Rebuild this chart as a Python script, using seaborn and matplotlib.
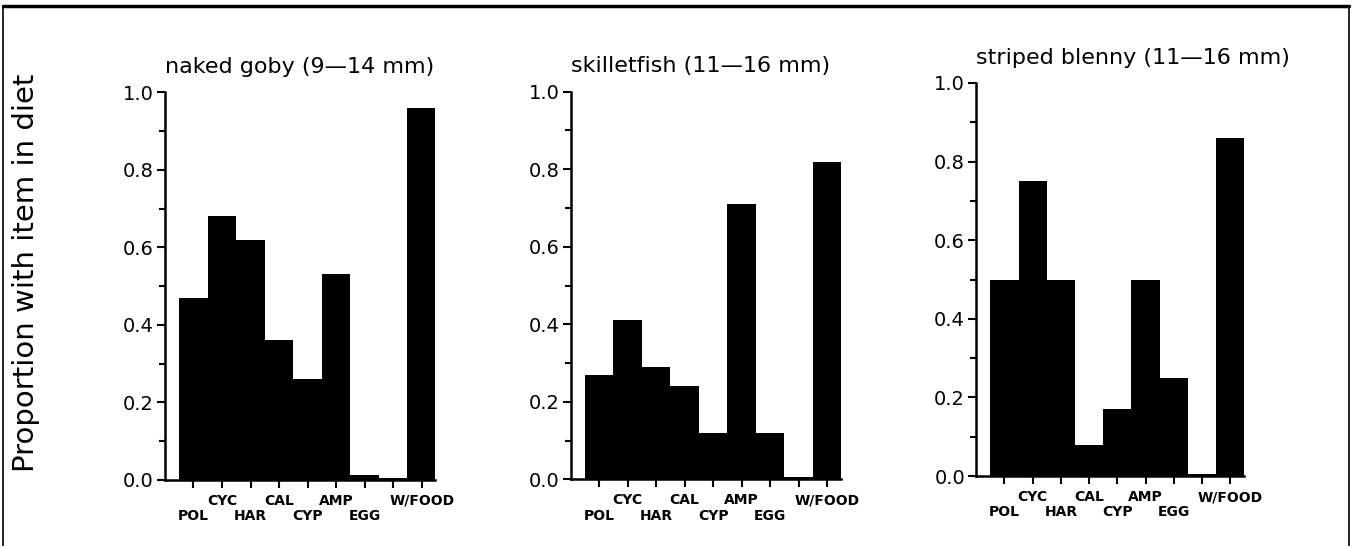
import matplotlib

matplotlib.use("Agg")

import matplotlib.pyplot as plt
import pandas as pd
import seaborn as sns
from matplotlib.lines import Line2D
from matplotlib.ticker import FixedLocator, FormatStrFormatter, MultipleLocator

# Diet items; the blank slot separates items from the "with food" total.
CATEGORIES = ["POL", "CYC", "HAR", "CAL", "CYP", "AMP", "EGG", "", "W/FOOD"]

TITLES = [
    "naked goby (9\u201414 mm)",
    "skilletfish (11\u201416 mm)",
    "striped blenny (11\u201416 mm)",
]

NAKED_GOBY = [0.47, 0.68, 0.62, 0.36, 0.26, 0.53, 0.012, 0.005, 0.96]
SKILLETFISH = [0.27, 0.41, 0.29, 0.24, 0.12, 0.71, 0.12, 0.005, 0.82]
STRIPED_BLENNY = [0.50, 0.75, 0.50, 0.08, 0.17, 0.50, 0.25, 0.005, 0.86]

SERIES = [NAKED_GOBY, SKILLETFISH, STRIPED_BLENNY]

# axes rectangles in figure fraction (left, bottom, width, height)
RECTS = [
    (0.122, 0.121, 0.200, 0.710),
    (0.422, 0.122, 0.200, 0.710),
    (0.722, 0.128, 0.198, 0.720),
]

# upper label row gets these slots, the rest go to the lower row
UPPER_ROW = {"CYC", "CAL", "AMP", "W/FOOD"}


def draw_panel(ax, values, title):
    df = pd.DataFrame({"item": CATEGORIES, "prop": values})
    sns.barplot(
        data=df,
        x="item",
        y="prop",
        order=CATEGORIES,
        color="black",
        width=1.0,
        linewidth=0,
        saturation=1,
        errorbar=None,
        ax=ax,
    )
    ax.set_xlim(-1, len(CATEGORIES) - 0.52)
    ax.set_ylim(0, 1.0)
    ax.yaxis.set_major_locator(MultipleLocator(0.2))
    ax.yaxis.set_minor_locator(MultipleLocator(0.1))
    ax.yaxis.set_major_formatter(FormatStrFormatter("%.1f"))

    # staggered item labels: major ticks carry the upper row, minor the lower
    upper = [i for i, c in enumerate(CATEGORIES) if c in UPPER_ROW]
    lower = [i for i, c in enumerate(CATEGORIES) if c not in UPPER_ROW]
    ax.xaxis.set_major_locator(FixedLocator(upper))
    ax.xaxis.set_minor_locator(FixedLocator(lower))
    ax.set_xticklabels([CATEGORIES[i] for i in upper])
    ax.set_xticklabels([CATEGORIES[i] for i in lower], minor=True)
    for lab in ax.get_xticklabels(which="both"):
        lab.set_fontsize(10)
        lab.set_fontweight("bold")

    ax.tick_params(axis="x", which="major", direction="out", length=6, width=1.5, pad=4)
    ax.tick_params(axis="x", which="minor", direction="out", length=6, width=1.5, pad=15)
    ax.tick_params(axis="y", which="major", direction="out", length=6, width=1.5,
                   labelsize=14, pad=2)
    ax.tick_params(axis="y", which="minor", direction="out", length=4, width=1.5)

    for side in ("top", "right"):
        ax.spines[side].set_visible(False)
    for side in ("left", "bottom"):
        ax.spines[side].set_linewidth(1.8)
        ax.spines[side].set_color("black")

    ax.set_xlabel("")
    ax.set_ylabel("")
    ax.set_title(title, loc="left", fontsize=16, pad=14)


def main():
    sns.set_theme(style="ticks")
    plt.rcParams["font.family"] = ["DejaVu Sans"]
    plt.rcParams.update({
        "text.color": "black",
        "axes.labelcolor": "black",
        "xtick.color": "black",
        "ytick.color": "black",
    })

    fig = plt.figure(figsize=(13.52, 5.46), dpi=100)
    for rect, values, title in zip(RECTS, SERIES, TITLES):
        ax = fig.add_axes(rect)
        draw_panel(ax, values, title)

    fig.text(0.019, 0.5, "Proportion with item in diet", rotation=90,
             fontsize=21, ha="center", va="center")

    # page frame (top, left, right edges)
    frame = dict(color="black", transform=fig.transFigure)
    fig.add_artist(Line2D([0.002, 0.998], [0.989, 0.989], linewidth=2.5, **frame))
    fig.add_artist(Line2D([0.002, 0.002], [0.0, 0.989], linewidth=1.2, **frame))
    fig.add_artist(Line2D([0.998, 0.998], [0.0, 0.989], linewidth=1.2, **frame))

    fig.savefig("out.png", dpi=100, facecolor="white")
    plt.close(fig)


if __name__ == "__main__":
    main()
